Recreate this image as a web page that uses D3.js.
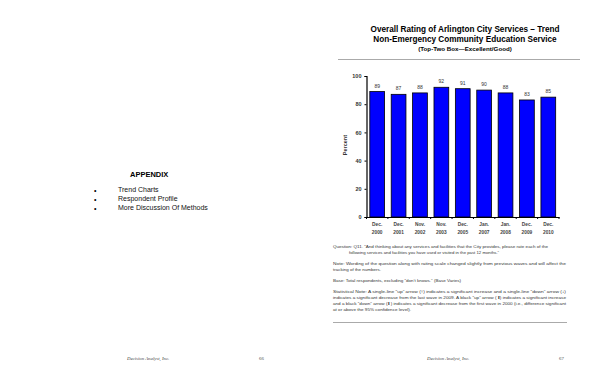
<!DOCTYPE html>
<html>
<head>
<meta charset="utf-8">
<script src="https://cdn.jsdelivr.net/npm/d3@7"></script>
<style>
  body { margin: 0; background: #fff; }
  svg { display: block; font-family: "Liberation Sans", Arial, sans-serif; }
</style>
</head>
<body>
<div id="page"></div>
<script>
// Chart data
var waves = ["Dec.|2000", "Dec.|2001", "Nov.|2002", "Nov.|2003", "Dec.|2005",
             "Jan.|2007", "Jan.|2008", "Dec.|2009", "Dec.|2010"];
var topTwoBox = [89, 87, 88, 92, 91, 90, 88, 83, 85];
var yTicks = [0, 20, 40, 60, 80, 100];

var titleLines = ["Overall Rating of Arlington City Services \u2013 Trend",
                  "Non-Emergency Community Education Service"];
var subTitle = "(Top-Two Box\u2014Excellent/Good)";

var appendixItems = ["Trend Charts", "Respondent Profile", "More Discussion Of Methods"];

var notes = [
  {t: "Question: Q11. \u201cAnd thinking about any services and facilities that the City provides, please rate each of the", w: 215, dx: 0},
  {t: "following services and facilities you have used or visited in the past 12 months.\u201d", w: 150, dx: 16},
  {t: "Note: Wording of the question along with rating scale changed slightly from previous waves and will affect the", w: 233, dx: 0, gap: true},
  {t: "tracking of the numbers.", w: 48, dx: 0},
  {t: "Base: Total respondents, excluding \u201cdon\u2019t knows.\u201d (Base Varies)", w: 128, dx: 0, gap: true},
  {t: "Statistical Note: A single-line \u201cup\u201d arrow (\u2191) indicates a significant increase and a single-line \u201cdown\u201d arrow (\u2193)", w: 233, dx: 0, gap: true},
  {t: "indicates a significant decrease from the last wave in 2009. A black \u201cup\u201d arrow (\u2b06) indicates a significant increase", w: 233, dx: 0},
  {t: "and a black \u201cdown\u201d arrow (\u2b07) indicates a significant decrease from the first wave in 2000 (i.e., difference significant", w: 233, dx: 0},
  {t: "at or above the 95% confidence level).", w: 78, dx: 0}
];

var svgWidth = 600;
var svgHeight = 388;

var svg = d3.select("#page")
  .append("svg")
  .attr("width", svgWidth)
  .attr("height", svgHeight);

// ---- left page ----
svg.append("text")
  .attr("x", 130).attr("y", 177)
  .attr("font-size", 7.5).attr("font-weight", "bold")
  .attr("fill", "#000")
  .text("APPENDIX");

appendixItems.forEach(function (d, i) {
  var y = 192 + i * 9;
  svg.append("text")
    .attr("x", 94).attr("y", y + 1)
    .attr("font-size", 7)
    .attr("fill", "#000")
    .text("\u2022");
  svg.append("text")
    .attr("x", 118).attr("y", y)
    .attr("font-size", 7)
    .attr("fill", "#111")
    .text(d);
});

// footers
var footers = [
  {x: 127, page: "66", px: 259},
  {x: 427, page: "67", px: 559}
];
footers.forEach(function (f) {
  svg.append("text")
    .attr("x", f.x).attr("y", 360)
    .attr("font-family", "'Liberation Serif', serif")
    .attr("font-style", "italic")
    .attr("font-size", 4.8)
    .attr("fill", "#444")
    .text("Decision Analyst, Inc.");
  svg.append("text")
    .attr("x", f.px).attr("y", 360)
    .attr("font-family", "'Liberation Serif', serif")
    .attr("font-size", 4.8)
    .attr("fill", "#444")
    .text(f.page);
});

// ---- right page: titles ----
titleLines.forEach(function (d, i) {
  svg.append("text")
    .attr("x", 465).attr("y", 32 + i * 10)
    .attr("text-anchor", "middle")
    .attr("font-size", 8.2).attr("font-weight", "bold")
    .attr("fill", "#000")
    .text(d);
});
svg.append("text")
  .attr("x", 465).attr("y", 51)
  .attr("text-anchor", "middle")
  .attr("font-size", 6.2).attr("font-weight", "bold")
  .attr("fill", "#000")
  .text(subTitle);

svg.append("line")
  .attr("x1", 338).attr("x2", 580)
  .attr("y1", 59.5).attr("y2", 59.5)
  .attr("stroke", "#aaa").attr("stroke-width", 1);

// ---- chart ----
var chartMargin = {left: 366.5, top: 76};
var chartWidth = 559 - chartMargin.left;
var chartHeight = 217 - chartMargin.top;

var chartGroup = svg.append("g")
  .attr("transform", `translate(${chartMargin.left}, ${chartMargin.top})`);

var xBandScale = d3.scaleBand()
  .domain(waves)
  .range([0, chartWidth])
  .paddingInner(0.31)
  .paddingOuter(0.155);

var yLinearScale = d3.scaleLinear()
  .domain([0, 100])
  .range([chartHeight, 0]);

chartGroup.selectAll(".bar")
  .data(topTwoBox)
  .enter()
  .append("rect")
  .attr("class", "bar")
  .attr("x", (d, i) => xBandScale(waves[i]))
  .attr("y", d => yLinearScale(d))
  .attr("width", xBandScale.bandwidth())
  .attr("height", d => chartHeight - yLinearScale(d))
  .attr("fill", "#0000ff")
  .attr("stroke", "#000")
  .attr("stroke-width", 0.8);

chartGroup.selectAll(".val")
  .data(topTwoBox)
  .enter()
  .append("text")
  .attr("class", "val")
  .attr("x", (d, i) => xBandScale(waves[i]) + xBandScale.bandwidth() / 2)
  .attr("y", d => yLinearScale(d) - 4)
  .attr("text-anchor", "middle")
  .attr("font-size", 5)
  .attr("fill", "#333")
  .text(d => d);

// y axis
var leftAxis = d3.axisLeft(yLinearScale)
  .tickValues(yTicks)
  .tickSize(2)
  .tickPadding(3);
var yAxisG = chartGroup.append("g").call(leftAxis);
yAxisG.select(".domain").attr("stroke-width", 1.2);
yAxisG.selectAll("text")
  .attr("font-size", 5.5)
  .attr("font-family", "'Liberation Sans', Arial, sans-serif")
  .attr("font-weight", "bold")
  .attr("fill", "#333");

// x axis with ticks at band edges
var bottomAxis = d3.axisBottom(xBandScale).tickSize(0).tickFormat("");
var xAxisG = chartGroup.append("g")
  .attr("transform", `translate(0, ${chartHeight})`)
  .call(bottomAxis);
xAxisG.select(".domain").attr("stroke-width", 1.2);

var step = xBandScale.step();
var edgeX = waves.map((d, i) => xBandScale(d) - xBandScale.paddingInner() * step / 2);
edgeX.push(chartWidth);
xAxisG.selectAll(".edge")
  .data(edgeX)
  .enter()
  .append("line")
  .attr("class", "edge")
  .attr("x1", d => d).attr("x2", d => d)
  .attr("y1", 0).attr("y2", 2)
  .attr("stroke", "#000");

waves.forEach(function (w) {
  var parts = w.split("|");
  var cx = xBandScale(w) + xBandScale.bandwidth() / 2;
  parts.forEach(function (p, j) {
    xAxisG.append("text")
      .attr("x", cx).attr("y", 9 + j * 7.5)
      .attr("text-anchor", "middle")
      .attr("font-size", 4.8)
      .attr("font-weight", "bold")
      .attr("fill", "#444")
      .text(p);
  });
});

chartGroup.append("text")
  .attr("transform", `translate(-20, ${yLinearScale(51)}) rotate(-90)`)
  .attr("text-anchor", "middle")
  .attr("font-size", 5.5)
  .attr("font-weight", "bold")
  .attr("fill", "#333")
  .text("Percent");

// ---- notes ----
var ny = 248;
notes.forEach(function (n, i) {
  if (i > 0) ny += n.gap ? 11 : 6;
  svg.append("text")
    .attr("x", 333 + n.dx).attr("y", ny)
    .attr("font-size", 4.3)
    .attr("fill", "#333")
    .attr("textLength", n.w)
    .attr("lengthAdjust", "spacingAndGlyphs")
    .text(n.t);
});

svg.append("line")
  .attr("x1", 333).attr("x2", 567)
  .attr("y1", 322.5).attr("y2", 322.5)
  .attr("stroke", "#aaa").attr("stroke-width", 1);
</script>
</body>
</html>
